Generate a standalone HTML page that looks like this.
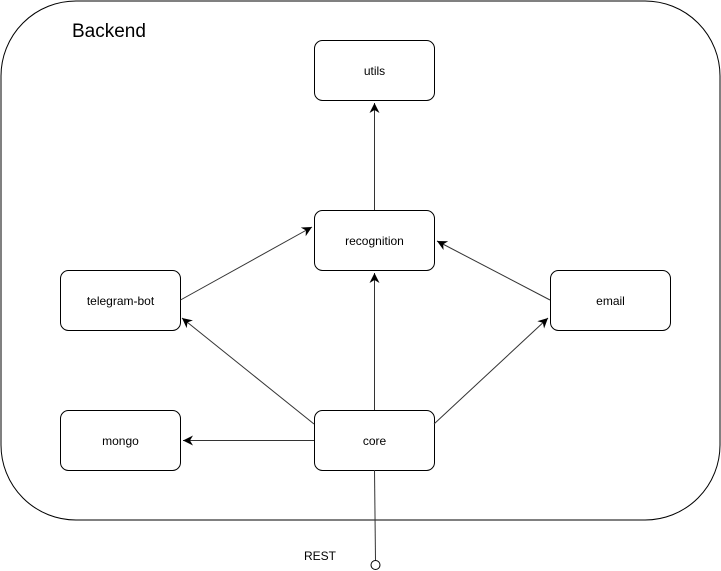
<!DOCTYPE html>
<html><head><meta charset="utf-8"><style>
html,body{margin:0;padding:0;background:#fff;}
svg{display:block;}
text{font-family:"Liberation Sans",Arial,sans-serif;fill:#000;}
</style></head><body>
<svg width="721" height="571" viewBox="0 0 721 571" xmlns="http://www.w3.org/2000/svg">
<defs>
<marker id="a" markerWidth="12" markerHeight="12" refX="10" refY="5" orient="auto" markerUnits="userSpaceOnUse">
<path d="M0,0 L10,5 L0,10 L3,5 Z" fill="#000"/>
</marker>
</defs>
<rect x="1" y="1" width="719" height="519" rx="75" ry="75" fill="#fff" stroke="#000" stroke-width="1"/>
<text x="72" y="37" font-size="19">Backend</text>
<g fill="#fff" stroke="#000" stroke-width="1">
<rect x="314.5" y="40.5" width="120" height="60" rx="8"/>
<rect x="314.5" y="210.5" width="120" height="60" rx="8"/>
<rect x="60.5" y="270.5" width="120" height="60" rx="8"/>
<rect x="550.5" y="270.5" width="120" height="60" rx="8"/>
<rect x="60.5" y="410.5" width="120" height="60" rx="8"/>
<rect x="314.5" y="410.5" width="120" height="60" rx="8"/>
</g>
<g font-size="12" text-anchor="middle">
<text x="374.5" y="75">utils</text>
<text x="374.5" y="245">recognition</text>
<text x="120.5" y="305">telegram-bot</text>
<text x="610.5" y="305">email</text>
<text x="120.5" y="445">mongo</text>
<text x="374.5" y="445">core</text>
</g>
<g stroke="#333" stroke-width="1" fill="none">
<line x1="374.5" y1="210" x2="374.5" y2="103" marker-end="url(#a)"/>
<line x1="374.5" y1="410" x2="374.5" y2="273" marker-end="url(#a)"/>
<line x1="180.5" y1="300" x2="312" y2="227" marker-end="url(#a)"/>
<line x1="550" y1="300" x2="437" y2="241" marker-end="url(#a)"/>
<line x1="314" y1="424" x2="182" y2="318" marker-end="url(#a)"/>
<line x1="434" y1="424" x2="548" y2="318" marker-end="url(#a)"/>
<line x1="314" y1="440.5" x2="183" y2="440.5" marker-end="url(#a)"/>
<line x1="374.5" y1="470" x2="375.5" y2="560"/>
</g>
<circle cx="375.5" cy="565" r="4.5" fill="#fff" stroke="#000"/>
<text x="304" y="560" font-size="12">REST</text>
</svg>
</body></html>
